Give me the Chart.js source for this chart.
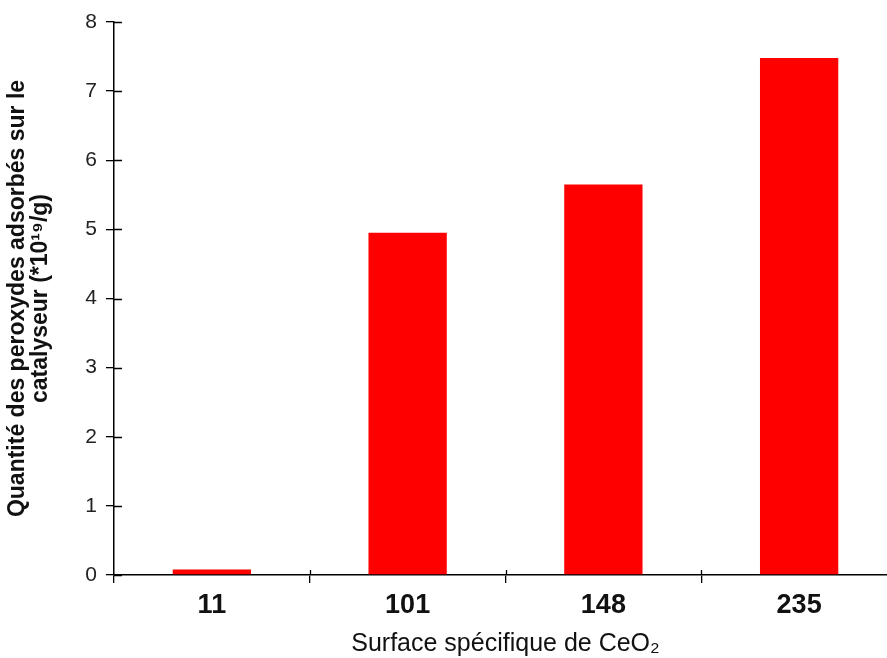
<!DOCTYPE html>
<html>
<head>
<meta charset="utf-8">
<script src="https://cdn.jsdelivr.net/npm/chart.js@4.4.1/dist/chart.umd.min.js"></script>
<style>
  html, body { margin: 0; padding: 0; background: #fff; overflow: hidden; }
  /* the original axis runs a little past the right edge of the picture */
  #wrap { width: 897px; height: 658px; }
</style>
</head>
<body>
<div id="wrap"><canvas id="chart"></canvas></div>
<script>
// Surface spécifique de CeO2 (categories) and peroxide amounts
const surfaces = ['11', '101', '148', '235'];
const peroxydes = [0.08, 4.95, 5.65, 7.48];
const yTicks = [0, 1, 2, 3, 4, 5, 6, 7, 8];

// draw the inner half of tick marks so they cross the axes
const crossTicks = {
    id: 'crossTicks',
    afterDraw(chart) {
        const ctx = chart.ctx;
        const x = chart.scales.x;
        const y = chart.scales.y;
        ctx.save();
        ctx.strokeStyle = '#000';
        ctx.lineWidth = 1.3;
        ctx.beginPath();
        yTicks.forEach(v => {
            const py = Math.round(y.getPixelForValue(v)) + 0.5;
            ctx.moveTo(y.right, py);
            ctx.lineTo(y.right + 8, py);
        });
        for (let i = 1; i <= surfaces.length; i++) {
            const px = Math.round(x.getPixelForValue(i - 0.5)) + 0.5;
            ctx.moveTo(px, x.top);
            ctx.lineTo(px, x.top - 5);
        }
        ctx.stroke();
        ctx.restore();
    }
};

new Chart(document.getElementById('chart'), {
    type: 'bar',
    data: {
        labels: surfaces,
        datasets: [{
            data: peroxydes,
            backgroundColor: '#ff0000',
            borderWidth: 0,
            barPercentage: 0.40,
            categoryPercentage: 1.0
        }]
    },
    options: {
        responsive: true,
        maintainAspectRatio: false,
        animation: false,
        layout: { padding: { top: 22, right: 0, left: 0, bottom: 0 } },
        plugins: {
            legend: { display: false },
            tooltip: { enabled: false }
        },
        scales: {
            x: {
                afterFit: s => { s.height = 83; },
                grid: {
                    offset: true,
                    drawOnChartArea: false,
                    color: '#000',
                    lineWidth: 1.3,
                    tickLength: 8
                },
                border: { color: '#000', width: 1.5 },
                ticks: {
                    color: '#111',
                    padding: 6,
                    font: { family: 'Liberation Sans, Arial', size: 27, weight: 'bold' }
                },
                title: {
                    display: true,
                    text: 'Surface spécifique de CeO₂',
                    color: '#111',
                    font: { family: 'Liberation Sans, Arial', size: 25, lineHeight: 1.1 },
                    padding: { top: 0, bottom: 0 }
                }
            },
            y: {
                min: 0,
                max: 8,
                afterFit: s => { s.width = 114; },
                grid: {
                    drawOnChartArea: false,
                    color: '#000',
                    lineWidth: 1.3,
                    tickLength: 8
                },
                border: { color: '#000', width: 1.5 },
                ticks: {
                    stepSize: 1,
                    color: '#222',
                    padding: 9,
                    font: { family: 'Liberation Sans, Arial', size: 21 }
                },
                title: {
                    display: true,
                    text: ['Quantité des peroxydes adsorbés sur le', 'catalyseur (*10¹⁹/g)'],
                    color: '#111',
                    font: { family: 'Liberation Sans, Arial', size: 23, weight: 'bold', lineHeight: 0.97 },
                    padding: { top: 7, bottom: 0 }
                }
            }
        }
    },
    plugins: [crossTicks]
});
</script>
</body>
</html>
